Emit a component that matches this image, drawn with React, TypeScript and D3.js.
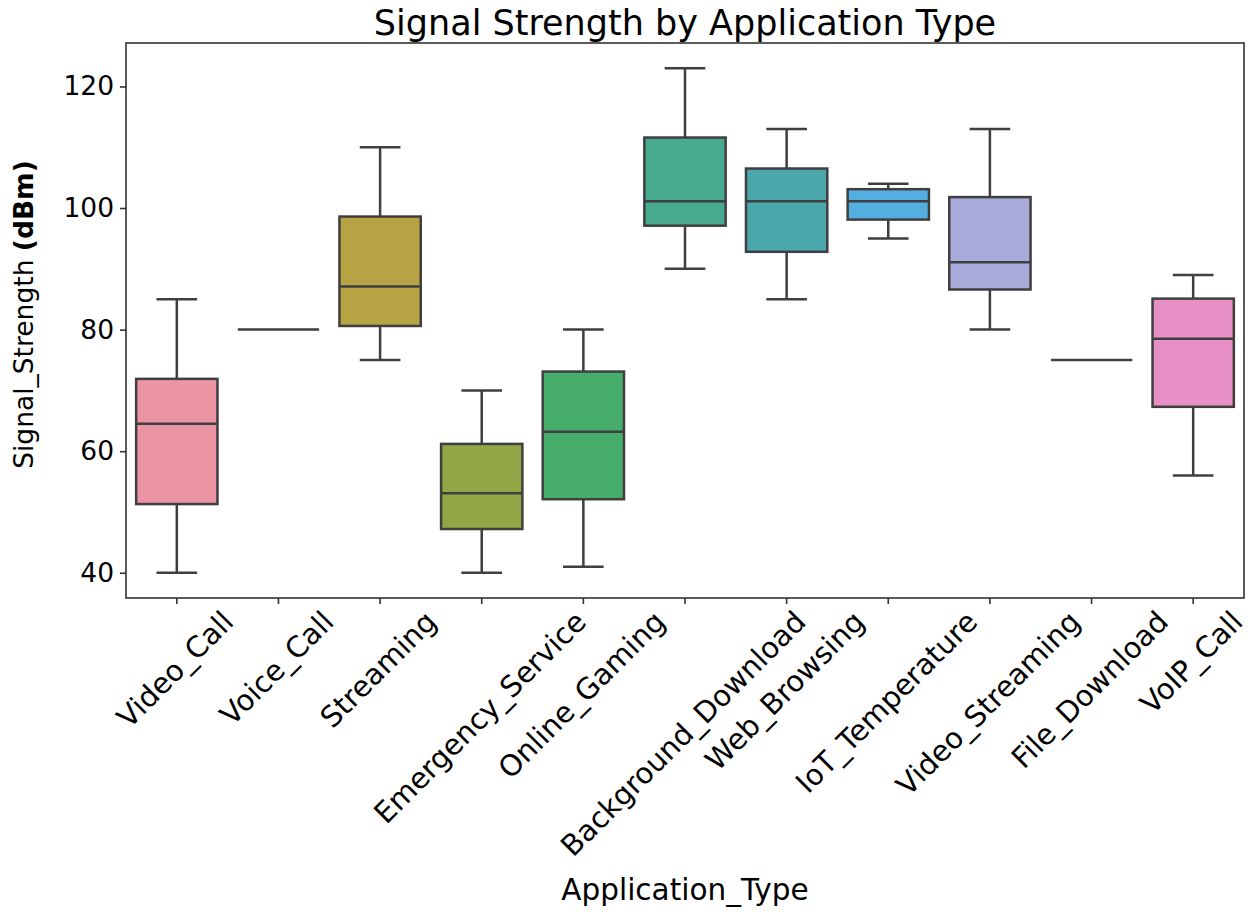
import React, { useEffect, useRef } from "react";
import * as d3 from "d3";

const categories = [
  "Video_Call",
  "Voice_Call",
  "Streaming",
  "Emergency_Service",
  "Online_Gaming",
  "Background_Download",
  "Web_Browsing",
  "IoT_Temperature",
  "Video_Streaming",
  "File_Download",
  "VoIP_Call",
];
const whiskerLow = [40, 80, 75, 40, 41, 90, 85, 95, 80, 75, 56];
const q1 = [51.3, 80, 80.6, 47.2, 52.1, 97.1, 92.8, 98.1, 86.6, 75, 67.3];
const medians = [64.5, 80, 87.1, 53.1, 63.2, 101.1, 101.1, 101.1, 91.1, 75, 78.5];
const q3 = [71.9, 80, 98.6, 61.2, 73.1, 111.6, 106.5, 103.1, 101.8, 75, 85.1];
const whiskerHigh = [85, 80, 110, 70, 80, 123, 113, 104, 113, 75, 89];
const boxColors = [
  "#eb94a3",
  "#d69b5a",
  "#b7a344",
  "#91a745",
  "#46ad6b",
  "#48ab90",
  "#4aa8ad",
  "#53afe0",
  "#a8aada",
  "#d594da",
  "#e690c5",
];
const yTicks = [40, 60, 80, 100, 120];

const W = 1250;
const H = 918;
const margin = { left: 126, right: 6, top: 43, bottom: 320 };
const LINE = "#3f3f3f";

const App = () => {
  const svgRef = useRef<SVGSVGElement>(null);

  useEffect(() => {
    const svg = d3.select(svgRef.current);
    svg.selectAll("*").remove();

    const x0 = margin.left;
    const x1 = W - margin.right;
    const y0 = margin.top;
    const y1 = H - margin.bottom;
    const font = "DejaVu Sans, sans-serif";

    const xScale = d3.scaleBand().domain(categories).range([x0, x1]).padding(0);
    const yScale = d3.scaleLinear().domain([35.85, 127.15]).range([y1, y0]);
    const bw = xScale.bandwidth() * 0.8;

    const data = categories.map((c, i) => ({
      c,
      lo: whiskerLow[i],
      q1: q1[i],
      med: medians[i],
      q3: q3[i],
      hi: whiskerHigh[i],
      color: boxColors[i],
    }));

    // boxes
    const g = svg.append("g");
    data.forEach((d) => {
      const cx = xScale(d.c)! + xScale.bandwidth() / 2;
      const gb = g.append("g");
      // whiskers
      gb.append("line")
        .attr("x1", cx).attr("x2", cx)
        .attr("y1", yScale(d.q1)).attr("y2", yScale(d.lo))
        .attr("stroke", LINE).attr("stroke-width", 2.5);
      gb.append("line")
        .attr("x1", cx).attr("x2", cx)
        .attr("y1", yScale(d.q3)).attr("y2", yScale(d.hi))
        .attr("stroke", LINE).attr("stroke-width", 2.5);
      if (d.hi !== d.lo) {
        [d.lo, d.hi].forEach((v) => {
          gb.append("line")
            .attr("x1", cx - bw / 4).attr("x2", cx + bw / 4)
            .attr("y1", yScale(v)).attr("y2", yScale(v))
            .attr("stroke", LINE).attr("stroke-width", 2.5);
        });
      }
      gb.append("rect")
        .attr("x", cx - bw / 2)
        .attr("width", bw)
        .attr("y", yScale(d.q3))
        .attr("height", yScale(d.q1) - yScale(d.q3))
        .attr("fill", d.color)
        .attr("stroke", LINE)
        .attr("stroke-width", 2.5);
      gb.append("line")
        .attr("x1", cx - bw / 2).attr("x2", cx + bw / 2)
        .attr("y1", yScale(d.med)).attr("y2", yScale(d.med))
        .attr("stroke", LINE).attr("stroke-width", 2.5);
    });

    // frame
    svg.append("rect")
      .attr("x", x0).attr("y", y0)
      .attr("width", x1 - x0).attr("height", y1 - y0)
      .attr("fill", "none").attr("stroke", "#333").attr("stroke-width", 1.6);

    // y axis
    const yAxis = svg.append("g").attr("transform", `translate(${x0},0)`)
      .call(d3.axisLeft(yScale).tickValues(yTicks).tickSize(6).tickPadding(6).tickFormat(d3.format("d")));
    yAxis.select(".domain").remove();
    yAxis.selectAll(".tick line").attr("stroke", "#333").attr("stroke-width", 1.6);
    yAxis.selectAll("text")
      .attr("font-family", font).attr("font-size", 26.5).attr("fill", "#000");

    // x axis ticks
    const xg = svg.append("g");
    const fs = 29;
    categories.forEach((c) => {
      const cx = xScale(c)! + xScale.bandwidth() / 2;
      xg.append("line")
        .attr("x1", cx).attr("x2", cx)
        .attr("y1", y1).attr("y2", y1 + 6)
        .attr("stroke", "#333").attr("stroke-width", 1.6);
      const t = xg.append("text")
        .attr("font-family", font).attr("font-size", fs)
        .attr("text-anchor", "end")
        .attr("fill", "#000")
        .text(c);
      const w = (t.node() as SVGTextElement).getComputedTextLength();
      const a = fs * 0.76;
      const dsc = fs * 0.24;
      const k = Math.SQRT1_2;
      const ax = cx + (k * (w + a - dsc)) / 2;
      const ay = y1 + 10 + k * a;
      t.attr("transform", `translate(${ax},${ay}) rotate(-45)`);
    });

    // title
    svg.append("text")
      .attr("x", (x0 + x1) / 2).attr("y", 35)
      .attr("text-anchor", "middle")
      .attr("font-family", font).attr("font-size", 35)
      .text("Signal Strength by Application Type");

    // x label
    svg.append("text")
      .attr("x", (x0 + x1) / 2).attr("y", 900)
      .attr("text-anchor", "middle")
      .attr("font-family", font).attr("font-size", 29.5)
      .text("Application_Type");

    // y label
    const yl = svg.append("text")
      .attr("transform", `translate(33,${(y0 + y1) / 2 - 6}) rotate(-90)`)
      .attr("text-anchor", "middle")
      .attr("font-family", font).attr("font-size", 26.5);
    yl.append("tspan").text("Signal_Strength ");
    yl.append("tspan").attr("font-weight", "bold").text("(dBm)");
  }, []);

  return (
    <div style={{ position: "absolute", left: 0, top: 0, width: W, height: H, background: "#fff" }}>
      <svg ref={svgRef} width={W} height={H} style={{ display: "block" }}></svg>
    </div>
  );
};

export default App;
